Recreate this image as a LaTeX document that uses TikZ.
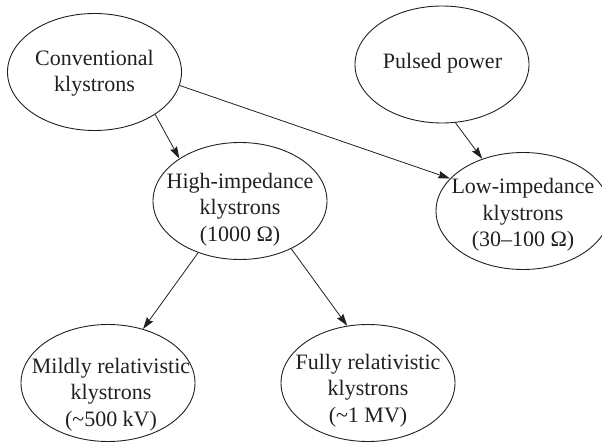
\documentclass[tikz,border=0pt]{standalone}
\usepackage{fontspec}
\setmainfont{Liberation Serif}
\usetikzlibrary{shapes.geometric,arrows.meta}
\definecolor{ink}{HTML}{231F20}
\newcommand{\approxtilde}{\char126\relax}
\begin{document}
\begin{tikzpicture}[x=1pt,y=-1pt,
  kly/.style={ellipse, draw=ink, line width=0.9pt, minimum width=174pt,
              minimum height=117pt, inner sep=0pt},
  txt/.style={align=center, text=ink, inner sep=0pt,
              font=\fontsize{22pt}{26.5pt}\selectfont},
  link/.style={draw=ink, line width=0.8pt,
               -{Stealth[length=12pt,width=7.5pt,inset=1.5pt]}}]
\useasboundingbox (0,0) rectangle (602,443);
\clip (0,0) rectangle (602,443);

% ellipses
\node[kly] (conv)  at (94.5,72)  {};
\node[kly] (pulse) at (442,64.5) {};
\node[kly] (high)  at (240,201)  {};
\node[kly] (low)   at (523,211)  {};
\node[kly] (mild)  at (108,383)  {};
\node[kly] (fully) at (368,383)  {};

% labels
\node[txt] (conv-t)  at (94.5,73)  {Conventional\\klystrons};
\node[txt] (pulse-t) at (442.5,63) {Pulsed power};
\node[txt] (high-t)  at (240,209.5) {High-impedance\\klystrons\\(1000 Ω)};
\node[txt] (low-t)   at (523,215)  {Low-impedance\\klystrons\\(30–100 Ω)};
\node[txt] (mild-t)  at (111,394.5) {Mildly relativistic\\klystrons\\(\approxtilde500 kV)};
\node[txt] (fully-t) at (368,390.5) {Fully relativistic\\klystrons\\(\approxtilde1 MV)};

% connectors
\draw[link] (conv.-35)     -- (high.145);
\draw[link] (conv.-9.3)    -- (low.156.2);
\draw[link] (pulse.-77.5)  -- (low.128.5);
\draw[link] (high.-129.1)  -- (mild.57.7);
\draw[link] (high.-43.3)   -- (fully.110.8);
\end{tikzpicture}
\end{document}
